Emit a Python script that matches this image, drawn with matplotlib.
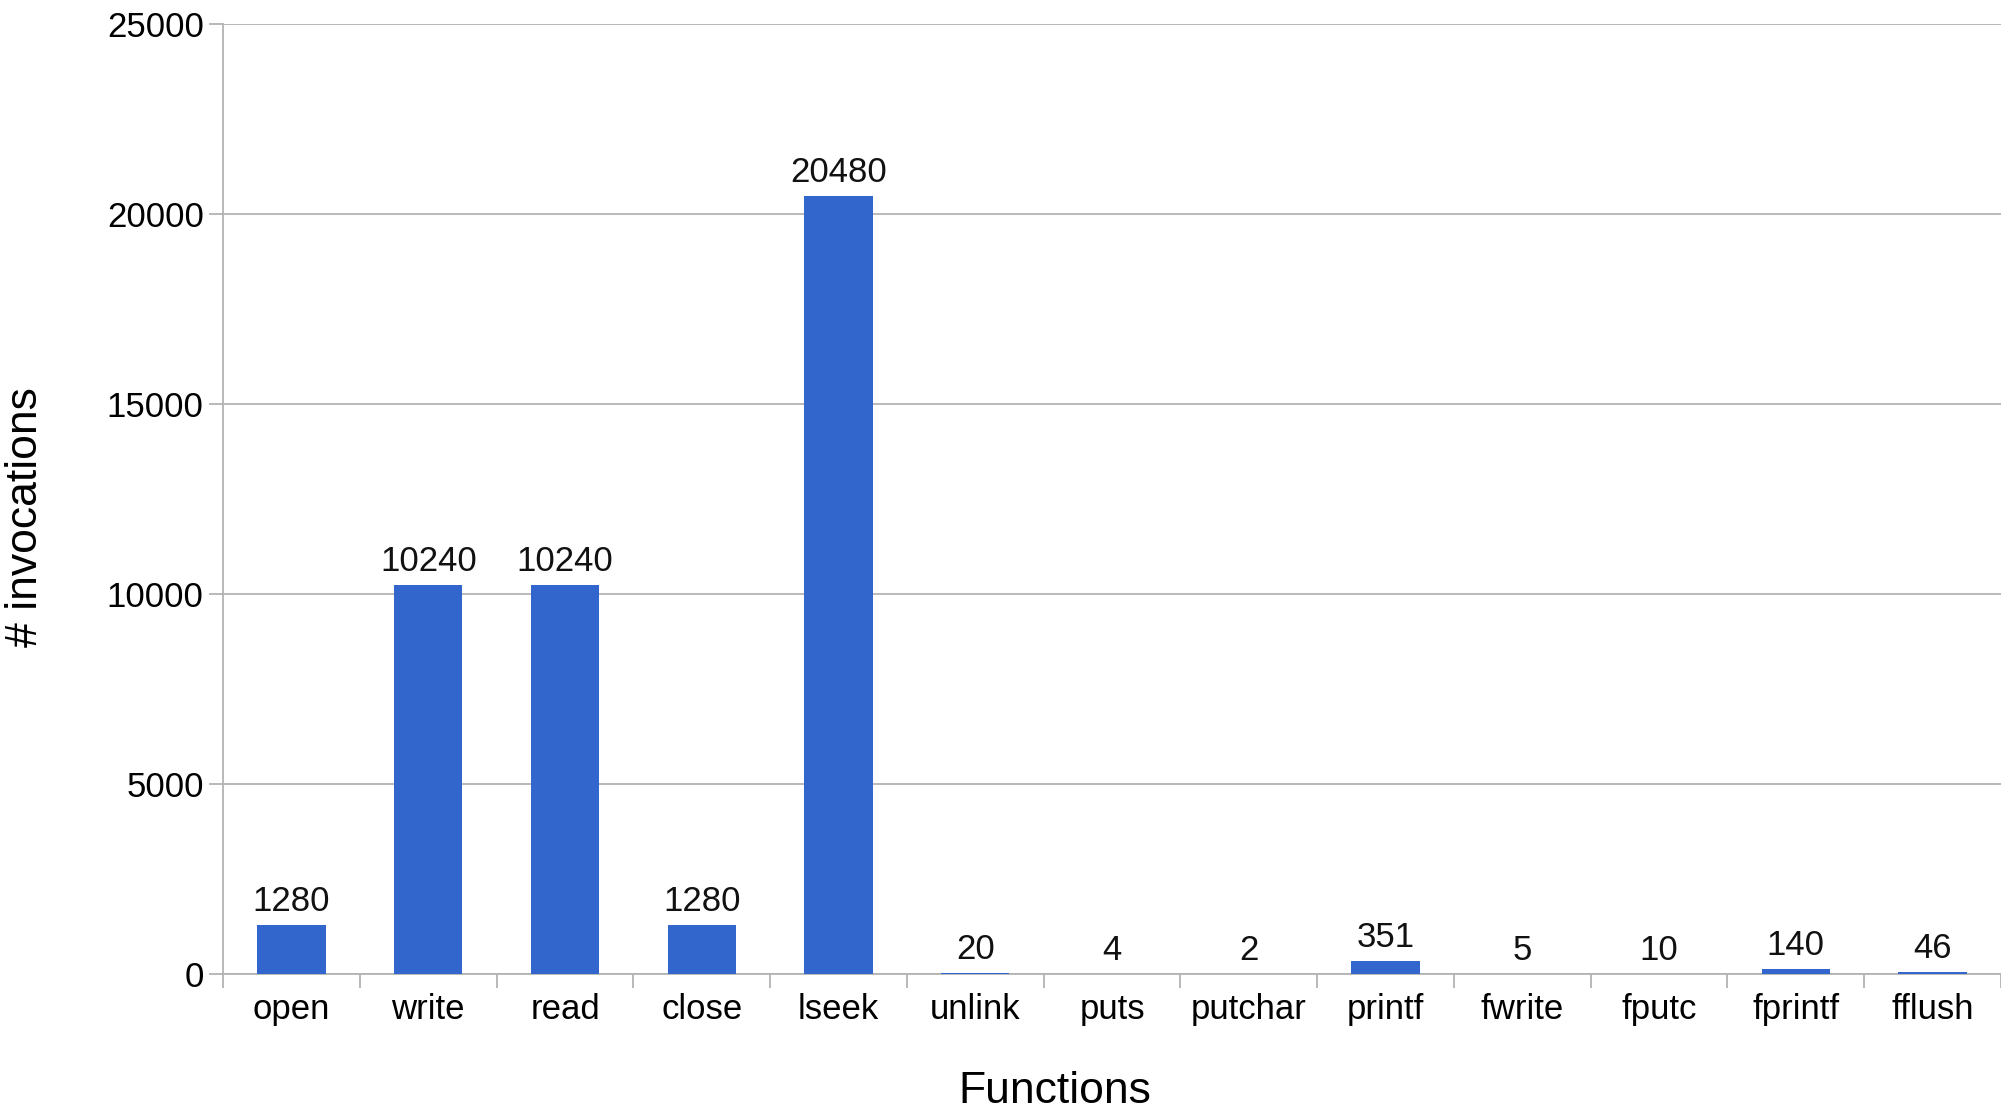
import matplotlib.pyplot as plt
import numpy as np

plt.rcParams['font.family'] = ['Liberation Sans', 'DejaVu Sans']

functions = ['open', 'write', 'read', 'close', 'lseek', 'unlink', 'puts',
             'putchar', 'printf', 'fwrite', 'fputc', 'fprintf', 'fflush']
invocations = [1280, 10240, 10240, 1280, 20480, 20, 4, 2, 351, 5, 10, 140, 46]
y_ticks = [0, 5000, 10000, 15000, 20000, 25000]

fig = plt.figure(figsize=(20.01, 11.08), dpi=100)
ax = fig.add_axes([0.1115, 0.121, 0.8885, 0.857])

x = np.arange(len(functions))
bars = ax.bar(x, invocations, width=0.5, color='#3366CC', zorder=3)
ax.bar_label(bars, labels=[str(v) for v in invocations], padding=5,
             fontsize=25, color='#111111')

ax.set_xlim(-0.5, len(functions) - 0.5)
ax.set_ylim(0, 25000)
ax.set_yticks(y_ticks)
ax.set_yticklabels([str(t) for t in y_ticks], fontsize=25)
ax.yaxis.grid(True, color='#b3b3b3', linewidth=1.3, zorder=0)

# labels in the middle, tick marks on category boundaries
ax.set_xticks(x)
ax.set_xticklabels(functions, fontsize=25)
ax.set_xticks(np.arange(-0.5, len(functions)), minor=True)
ax.tick_params(axis='x', which='major', length=0, pad=14)
ax.tick_params(axis='x', which='minor', length=10, color='#b3b3b3', width=1.3)
ax.tick_params(axis='y', length=10, color='#b3b3b3', width=1.3, pad=4)

for side in ['top', 'right']:
    ax.spines[side].set_visible(False)
for side in ['left', 'bottom']:
    ax.spines[side].set_color('#b3b3b3')
    ax.spines[side].set_linewidth(1.3)

ax.set_xlabel('Functions', fontsize=32, labelpad=32)
ax.xaxis.label.set_x(0.468)
ax.set_ylabel('# invocations', fontsize=32, labelpad=44)
ax.yaxis.label.set_y(0.481)

fig.savefig('out.png', dpi=100, facecolor='white')
